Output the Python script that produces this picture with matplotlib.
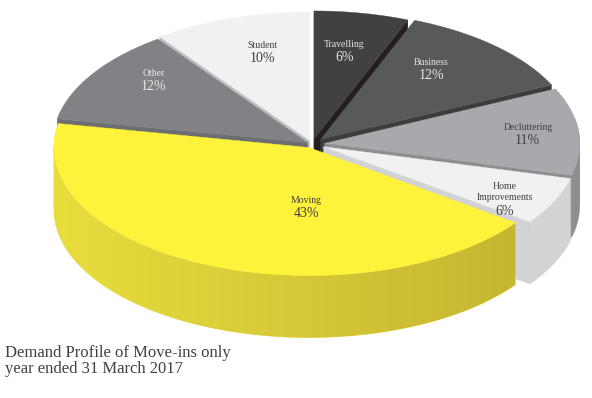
import numpy as np
import matplotlib
matplotlib.use("Agg")
import matplotlib.pyplot as plt
from matplotlib.patches import Polygon

# slices, clockwise from 12 o'clock
labels = ["Travelling", "Business", "Decluttering", "Home\nImprovements", "Moving", "Other", "Student"]
values = [6, 12, 11, 6, 43, 12, 10]
top_colors = ["#414042", "#58595b", "#a7a9ac", "#f1f1f2", "#fff23a", "#808285", "#f1f1f2"]
side_colors = ["#231f20", "#3d3d3f", "#8c8e90", "#d1d3d4", "#e9dd3d", "#6d6e71", "#bcbec0"]
text_colors = ["#e6e7e8", "#e6e7e8", "#414042", "#414042", "#414042", "#e6e7e8", "#414042"]
explode = [0.04, 0.05, 0.05, 0.05, 0.03, 0.02, 0.03]
label_r = [0.70, 0.70, 0.80, 0.84, 0.46, 0.78, 0.72]
label_shift = [1, 5, 0, -7, 22, -7, -3]
title = "Demand Profile of Move-ins only\nyear ended 31 March 2017"

W, H = 592, 398
cx, cy = 312, 144
rx, ry = 255, 128
depth = 62
font = "Liberation Serif"

fig = plt.figure(figsize=(W / 100, H / 100), dpi=100)
ax = fig.add_axes([0, 0, 1, 1])
ax.set_xlim(0, W)
ax.set_ylim(H, 0)
ax.axis("off")


def pts(t, ox, oy, r=1.0, z=0.0):
    t = np.radians(np.atleast_1d(t))
    return np.column_stack([ox + cx + rx * r * np.cos(t), oy + cy - ry * r * np.sin(t) + z])


def runs(mask):
    idx = np.flatnonzero(mask)
    if idx.size == 0:
        return []
    cuts = np.flatnonzero(np.diff(idx) > 1) + 1
    return np.split(idx, cuts)


vals = np.array(values, dtype=float)
ends = 90 - np.cumsum(vals) / vals.sum() * 360
starts = ends + vals / vals.sum() * 360
mids = (starts + ends) / 2

order = np.argsort(-np.sin(np.radians(mids)))
z = 1
for i in order:
    a0, a1, m = starts[i], ends[i], mids[i]
    ox = explode[i] * rx * np.cos(np.radians(m))
    oy = -explode[i] * ry * np.sin(np.radians(m))
    apex = pts(0, ox, oy, r=0)[0]

    # radial walls facing the viewer
    for a, vis in [(a0, np.cos(np.radians(a0)) < 0), (a1, np.cos(np.radians(a1)) > 0)]:
        if vis:
            rim = pts(a, ox, oy)[0]
            wall = [apex, rim, rim + [0, depth], apex + [0, depth]]
            ax.add_patch(Polygon(wall, closed=True, fc=side_colors[i], ec=side_colors[i], lw=0.3, zorder=z))
            z += 1

    # outer wall: front half, plus a sliver behind the silhouette point
    t = np.linspace(a1, a0, 400)
    s = np.sin(np.radians(t))
    on_edge = np.any(np.abs(s) < 0.01)
    masks = [s <= 0]
    if on_edge:
        masks.insert(0, (s > 0) & (s <= 0.2))
    for k, mask in enumerate(masks):
        for r_idx in runs(mask):
            tf = t[r_idx]
            topa = pts(tf, ox, oy)
            bot = pts(tf[::-1], ox, oy, z=depth)
            poly = Polygon(np.vstack([topa, bot]), closed=True, fc=side_colors[i], ec=side_colors[i],
                           lw=0.3, zorder=z)
            ax.add_patch(poly)
            z += 1
            if labels[i] == "Moving" and k == len(masks) - 1:
                grad = np.linspace(0, 1, 256)[None, :, None]
                c_l = np.array(matplotlib.colors.to_rgb(side_colors[i]))
                c_r = np.array(matplotlib.colors.to_rgb("#c5b632"))
                img = c_l + (c_r - c_l) * grad
                xy = np.vstack([topa, bot])
                im = ax.imshow(img, extent=(xy[:, 0].min(), xy[:, 0].max(), xy[:, 1].max(), xy[:, 1].min()),
                               aspect="auto", zorder=z)
                im.set_clip_path(poly)
                z += 1

    # top face
    arc = pts(np.linspace(a0, a1, 300), ox, oy)
    ax.add_patch(Polygon(np.vstack([apex, arc]), closed=True, fc=top_colors[i], ec=top_colors[i], lw=0.3, zorder=z))
    z += 1

    # label
    lx, ly = pts(m + label_shift[i], ox, oy, r=label_r[i])[0]
    nlines = labels[i].count("\n") + 1
    ax.text(lx, ly - 6 - 6 * (nlines - 1), labels[i], ha="center", va="center", fontsize=7, family=font,
            color=text_colors[i], linespacing=1.25, zorder=100)
    ax.text(lx, ly + 7, f"{values[i]}%", ha="center", va="center", fontsize=10, family=font,
            color=text_colors[i], zorder=100)

ax.text(5, 361, title, ha="left", va="center", fontsize=12, family=font, color="#414042",
        linespacing=1.0, zorder=100)

fig.savefig("out.png", dpi=100)
